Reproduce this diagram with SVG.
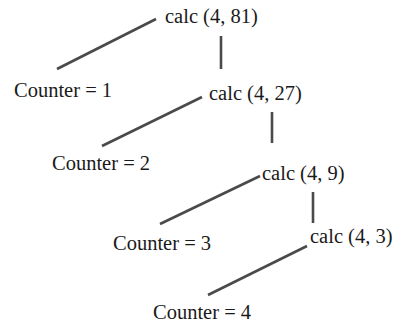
<svg xmlns="http://www.w3.org/2000/svg" width="396" height="324" viewBox="0 0 396 324">
<style>
text{font-family:"Liberation Serif","Times New Roman",serif;font-size:20.5px;fill:#1a1a1a}
line{stroke:#4a4a4a;stroke-width:2.6;stroke-linecap:butt}
</style>
<rect width="396" height="324" fill="#fff"/>
<g id="connectors">
<line x1="57" y1="69" x2="156" y2="19"/>
<line x1="221" y1="36" x2="221" y2="69"/>
<line x1="102" y1="146" x2="202" y2="97"/>
<line x1="272" y1="112" x2="272" y2="143"/>
<line x1="160" y1="224" x2="260" y2="176"/>
<line x1="313" y1="192" x2="313" y2="223"/>
<line x1="208" y1="295" x2="307" y2="246"/>
</g>
<g id="calc81"><text x="165" y="23">calc (4, 81)</text></g>
<g id="counter1"><text x="14" y="97">Counter = 1</text></g>
<g id="calc27"><text x="209" y="100">calc (4, 27)</text></g>
<g id="counter2"><text x="52" y="170">Counter = 2</text></g>
<g id="calc9"><text x="262" y="180">calc (4, 9)</text></g>
<g id="counter3"><text x="113" y="250">Counter = 3</text></g>
<g id="calc3"><text x="310" y="243">calc (4, 3)</text></g>
<g id="counter4"><text x="153" y="319">Counter = 4</text></g>
</svg>
